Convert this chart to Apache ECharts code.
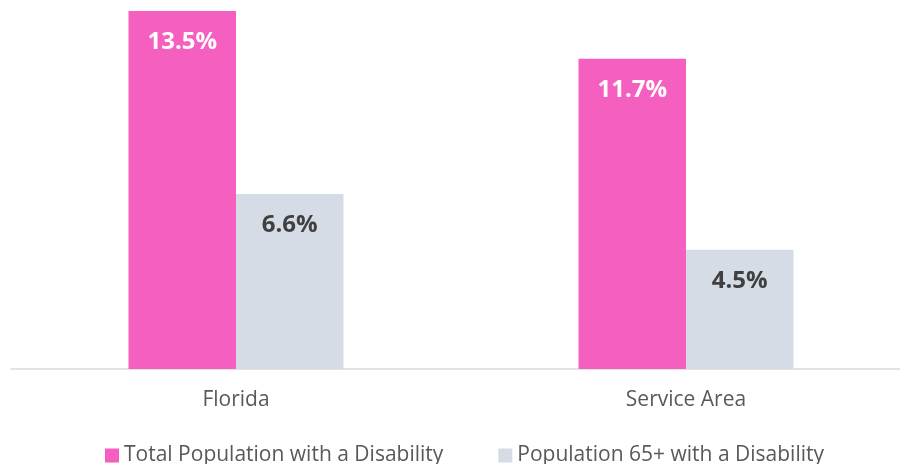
<!DOCTYPE html>
<html>
<head>
<meta charset="utf-8">
<style>
  html, body { margin: 0; padding: 0; background: #ffffff; }
  #chart { width: 900px; height: 464px; }
</style>
<script src="https://cdn.jsdelivr.net/npm/echarts@6/dist/echarts.min.js"></script>
</head>
<body>
<div id="chart"></div>
<script>
// Disability prevalence, Florida vs. service area
const categories = ['Florida', 'Service Area'];
const seriesNames = ['Total Population with a Disability', 'Population 65+ with a Disability'];
const totalDisability = [13.5, 11.7];
const seniorDisability = [6.6, 4.5];

const FONT = '"Open Sans", Lato, sans-serif';

const chart = echarts.init(document.getElementById('chart'), null, { renderer: 'canvas' });

function labelStyle(color) {
  return {
    show: true,
    position: 'insideTop',
    distance: 19,
    color: color,
    fontFamily: FONT,
    fontWeight: 'bold',
    fontSize: 24,
    formatter: p => p.value.toFixed(1) + '%'
  };
}

chart.setOption({
  animation: false,
  backgroundColor: '#ffffff',
  grid: { left: 11, top: 11, right: -11, bottom: 95, outerBoundsMode: 'none', containLabel: false },
  legend: {
    top: 445,
    left: 105,
    padding: 0,
    itemWidth: 14,
    itemHeight: 14,
    itemGap: 55,
    icon: 'rect',
    textStyle: { fontFamily: FONT, fontSize: 21, color: '#595959' },
    data: seriesNames
  },
  xAxis: {
    type: 'category',
    data: categories,
    axisLine: { show: true, lineStyle: { color: '#d9d9d9', width: 1.5 } },
    axisTick: { show: false },
    axisLabel: { fontFamily: FONT, fontSize: 21, color: '#595959', margin: 21 }
  },
  yAxis: {
    type: 'value',
    min: 0,
    max: 13.5,
    show: false,
    splitLine: { show: false }
  },
  series: [
    {
      name: seriesNames[0],
      type: 'bar',
      data: totalDisability,
      barWidth: 107.5,
      barGap: '0%',
      itemStyle: { color: '#F55FBF' },
      label: labelStyle('#ffffff')
    },
    {
      name: seriesNames[1],
      type: 'bar',
      data: seniorDisability,
      barWidth: 107.5,
      barGap: '0%',
      itemStyle: { color: '#D5DCE5' },
      label: labelStyle('#404040')
    }
  ]
});
</script>
</body>
</html>
